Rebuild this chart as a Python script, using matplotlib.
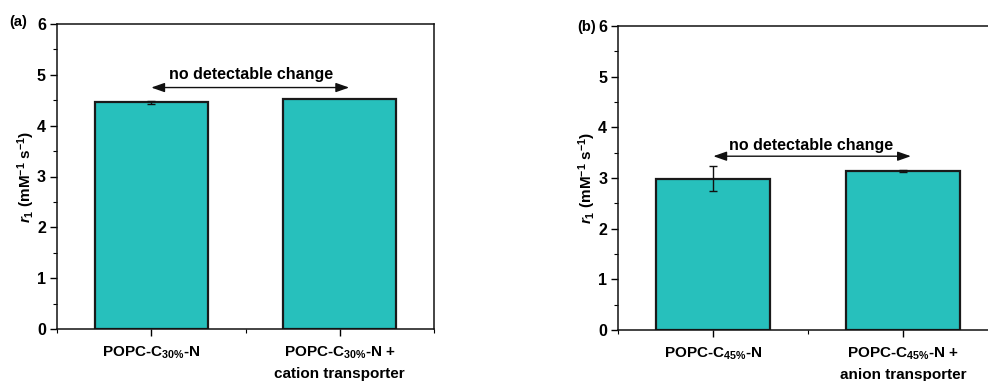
import matplotlib
matplotlib.use("Agg")
import matplotlib.pyplot as plt
from matplotlib.ticker import MultipleLocator, FixedLocator

plt.rcParams['font.family'] = ['Liberation Sans', 'DejaVu Sans']
plt.rcParams['font.weight'] = 'bold'
plt.rcParams['mathtext.fontset'] = 'custom'
plt.rcParams['mathtext.rm'] = 'Liberation Sans:bold'
plt.rcParams['mathtext.bf'] = 'Liberation Sans:bold'
plt.rcParams['mathtext.it'] = 'Liberation Sans:italic:bold'
plt.rcParams['mathtext.default'] = 'regular'

# Panel (a): cation transporter
labels_a = [r"POPC-C$_{30\%}$-N", "POPC-C$_{30\\%}$-N +\ncation transporter"]
values_a = [4.46, 4.53]
errors_a = [0.03, 0.0]

# Panel (b): anion transporter
labels_b = [r"POPC-C$_{45\%}$-N", "POPC-C$_{45\\%}$-N +\nanion transporter"]
values_b = [2.99, 3.13]
errors_b = [0.24, 0.02]

annotation = "no detectable change"
ylabel = r"$\mathit{r}_{1}$ (mM$^{-1}$ s$^{-1}$)"

BAR_COLOR = '#27C0BC'
EDGE = '#1a1a1a'

fig = plt.figure(figsize=(9.88, 3.81), dpi=100)
ax_a = fig.add_axes([57 / 988, 1 - 329 / 381, 377 / 988, 305 / 381])
ax_b = fig.add_axes([618.3 / 988, 1 - 330 / 381, 380 / 988, 304 / 381])


def draw_panel(ax, labels, values, errors, arrow_y, arrow_end, text_x, text_y):
    x = [1, 2]
    ax.bar(x, values, width=0.6, color=BAR_COLOR, edgecolor=EDGE,
           linewidth=1.6, zorder=2)
    for xi, v, e in zip(x, values, errors):
        if e > 0:
            ax.errorbar(xi, v, yerr=e, fmt='none', ecolor='#111111',
                        elinewidth=1.0, capsize=3.2, capthick=1.0, zorder=3)
    ax.set_xlim(0.5, 2.5)
    ax.set_ylim(0, 6)
    ax.yaxis.set_major_locator(MultipleLocator(1))
    ax.yaxis.set_minor_locator(MultipleLocator(0.5))
    ax.xaxis.set_major_locator(FixedLocator(x))
    ax.xaxis.set_minor_locator(FixedLocator([0.5, 1.5, 2.5]))
    ax.set_xticklabels(labels, fontsize=11, fontweight='bold',
                       linespacing=1.55, va='top')
    ax.tick_params(axis='y', which='major', direction='out', length=5,
                   width=1.0, labelsize=11.5, pad=3)
    ax.tick_params(axis='y', which='minor', direction='out', length=3,
                   width=0.8)
    ax.tick_params(axis='x', which='major', direction='out', length=5,
                   width=1.0, pad=6)
    ax.tick_params(axis='x', which='minor', direction='out', length=3,
                   width=0.8)
    for lab in ax.get_yticklabels():
        lab.set_fontweight('bold')
    for sp in ax.spines.values():
        sp.set_linewidth(1.1)
        sp.set_color('#111111')
    ax.set_ylabel(ylabel, fontsize=11, fontweight='bold', labelpad=0)
    ax.annotate('', xy=(arrow_end, arrow_y), xytext=(1.0, arrow_y),
                arrowprops=dict(arrowstyle='<|-|>,head_length=0.8,head_width=0.28',
                                color='#111111', lw=1.0, mutation_scale=10,
                                shrinkA=0, shrinkB=0))
    ax.text(text_x, text_y, annotation, ha='center', va='center',
            fontsize=11.5, fontweight='bold')


draw_panel(ax_a, labels_a, values_a, errors_a, 4.75, 2.05, 1.527, 5.0)
draw_panel(ax_b, labels_b, values_b, errors_b, 3.43, 2.04, 1.514, 3.65)

fig.text(18 / 988, 1 - 22 / 381, '(a)', ha='center', va='center',
         fontsize=10.5, fontweight='bold')
fig.text(587 / 988, 1 - 27 / 381, '(b)', ha='center', va='center',
         fontsize=10.5, fontweight='bold')

fig.savefig('out.png', dpi=100)
